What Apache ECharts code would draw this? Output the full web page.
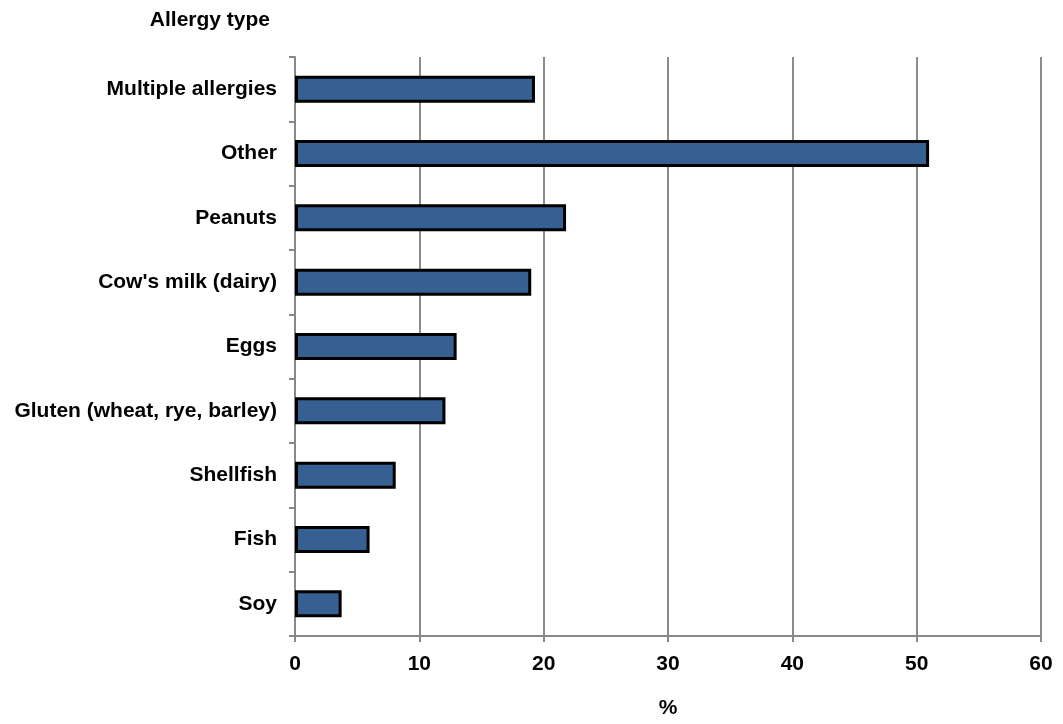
<!DOCTYPE html>
<html>
<head>
<meta charset="utf-8">
<script src="https://cdn.jsdelivr.net/npm/echarts@6/dist/echarts.min.js"></script>
<style>
html,body{margin:0;padding:0;background:#fff;}
#chart{width:1063px;height:724px;}
</style>
</head>
<body>
<div id="chart"></div>
<script>
const categories = ["Multiple allergies", "Other", "Peanuts", "Cow's milk (dairy)", "Eggs", "Gluten (wheat, rye, barley)", "Shellfish", "Fish", "Soy"];
const values = [19.3, 51.0, 21.8, 19.0, 13.0, 12.1, 8.1, 6.0, 3.75];
const xTicks = [0, 10, 20, 30, 40, 50, 60];

const font = '"Liberation Sans", Arial, sans-serif';
const chart = echarts.init(document.getElementById('chart'));
chart.setOption({
  animation: false,
  backgroundColor: '#ffffff',
  grid: { left: 295, right: 22, top: 57, bottom: 86, containLabel: false },
  xAxis: {
    type: 'value',
    min: xTicks[0], max: xTicks[xTicks.length - 1], interval: 10,
    name: '%', nameLocation: 'middle', nameGap: 62,
    nameTextStyle: { fontFamily: font, fontWeight: 'bold', fontSize: 21, color: '#000' },
    axisLine: { show: true, lineStyle: { color: '#888888', width: 2 } },
    axisTick: { show: true, length: 6, lineStyle: { color: '#888888', width: 2 } },
    axisLabel: { fontFamily: font, fontWeight: 'bold', fontSize: 21, color: '#000', margin: 18 },
    splitLine: { show: true, lineStyle: { color: '#8c8c8c', width: 2 } }
  },
  yAxis: {
    type: 'category', inverse: true, data: categories,
    name: 'Allergy type', nameLocation: 'start', nameGap: 26,
    nameTextStyle: { fontFamily: font, fontWeight: 'bold', fontSize: 21, color: '#000', align: 'right', padding: [0, 25, 0, 0] },
    axisLine: { show: true, lineStyle: { color: '#888888', width: 2 } },
    axisTick: { show: true, length: 6, lineStyle: { color: '#888888', width: 2 } },
    axisLabel: { fontFamily: font, fontWeight: 'bold', fontSize: 21, color: '#000', margin: 18 },
    splitLine: { show: false }
  },
  series: [{
    type: 'bar', data: values, barCategoryGap: '58%',
    itemStyle: { color: '#365f92', borderColor: '#000000', borderWidth: 3 }
  }]
});
</script>
</body>
</html>
